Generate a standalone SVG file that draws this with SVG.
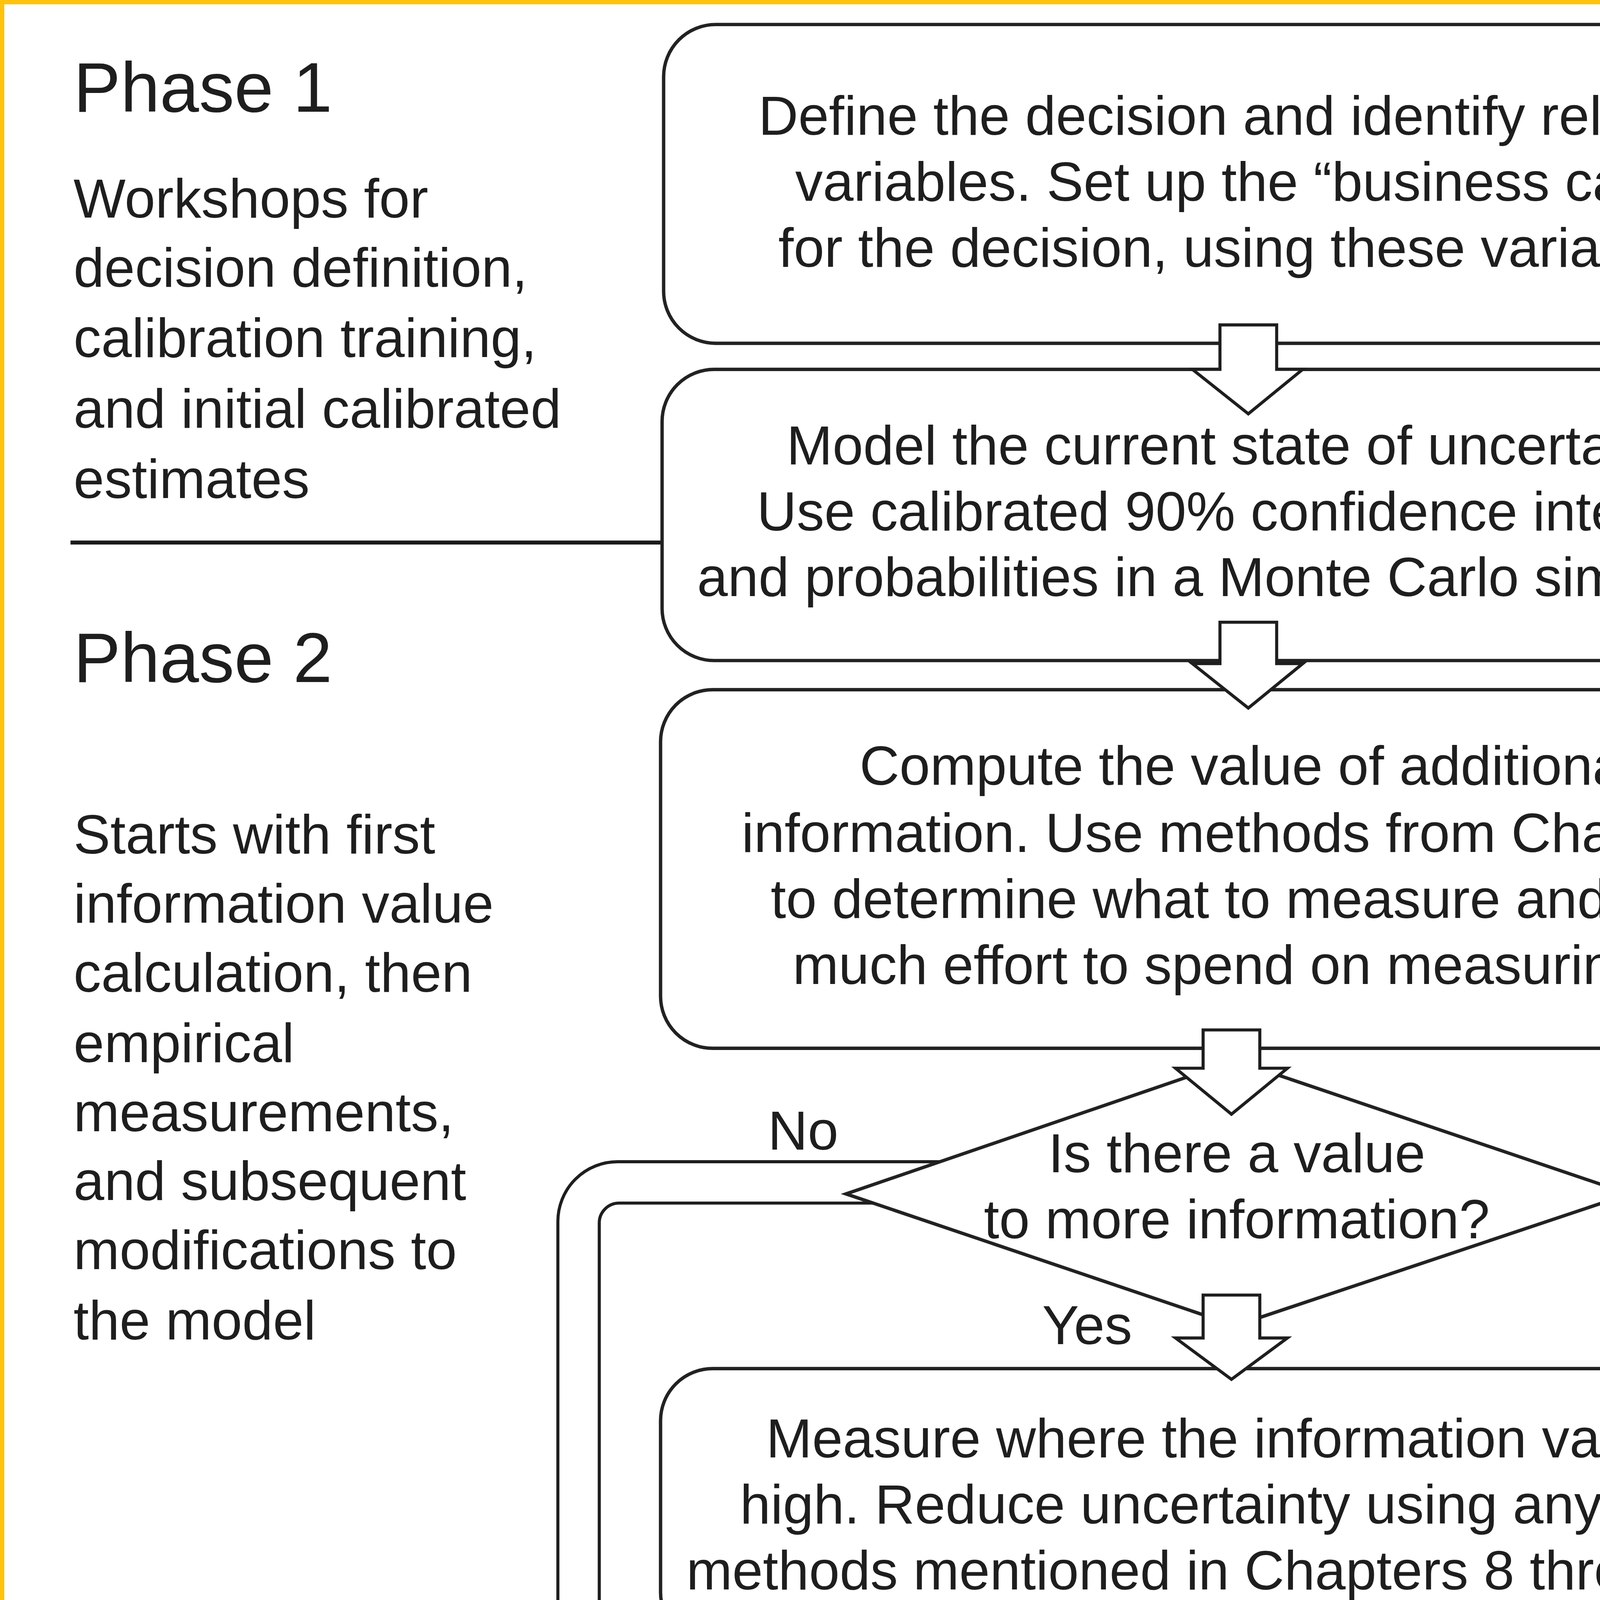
<svg xmlns="http://www.w3.org/2000/svg" width="6152" height="5744" viewBox="0 0 6152 5744">
<style>
.t{font-family:"Liberation Sans",Arial,sans-serif;fill:#1e1e1e;font-size:36px}
.c{text-anchor:middle}
.ph{font-size:46px}
.box{fill:#fff;stroke:#222;stroke-width:2.2}
.blk{fill:#fff;stroke:#1e1e1e;stroke-width:2;stroke-linejoin:miter}
.loop{fill:none;stroke:#1e1e1e;stroke-width:2;stroke-linejoin:miter}
.div{stroke:#1a1a1a;stroke-width:2.6}
.cap{font-family:"Liberation Serif","Times New Roman",serif;font-size:48px;fill:#333}
</style>
<rect x="0" y="0" width="6152" height="5744" fill="#fff"/>
<rect x="5.5" y="5.5" width="6141" height="5733" fill="none" stroke="#FFC20F" stroke-width="11"/>
<g transform="scale(3.9235)">
  <g id="dividers">
    <line class="div" x1="46" y1="354" x2="1498" y2="354"/>
    <line class="div" x1="46" y1="1080" x2="1498" y2="1080"/>
  </g>
  <g id="phase-labels">
    <text class="t ph" x="48" y="73">Phase 1</text>
    <text class="t" x="48"><tspan x="48" y="142">Workshops for</tspan><tspan x="48" y="187">decision definition,</tspan><tspan x="48" y="233">calibration training,</tspan><tspan x="48" y="279">and initial calibrated</tspan><tspan x="48" y="325">estimates</tspan></text>
    <text class="t ph" x="48" y="445">Phase 2</text>
    <text class="t" x="48"><tspan x="48" y="557">Starts with first</tspan><tspan x="48" y="602">information value</tspan><tspan x="48" y="647">calculation, then</tspan><tspan x="48" y="693">empirical</tspan><tspan x="48" y="738">measurements,</tspan><tspan x="48" y="783">and subsequent</tspan><tspan x="48" y="828">modifications to</tspan><tspan x="48" y="874">the model</tspan></text>
    <text class="t ph" x="48" y="1145">Phase 3</text>
    <text class="t" x="48"><tspan x="48" y="1212">Determining optimum</tspan><tspan x="48" y="1258">decisions; findings and</tspan><tspan x="48" y="1305">recommendations</tspan></text>
  </g>
  <g id="node-define">
    <rect class="box" x="433" y="16" width="762" height="208" rx="34"/>
    <text class="t c"><tspan x="814" y="88">Define the decision and identify relevant</tspan><tspan x="814" y="131">variables. Set up the “business case”</tspan><tspan x="814" y="174">for the decision, using these variables.</tspan></text>
  </g>
  <g id="node-model">
    <rect class="box" x="432" y="241" width="765" height="190" rx="34"/>
    <text class="t c"><tspan x="814" y="303">Model the current state of uncertainty.</tspan><tspan x="814" y="346">Use calibrated 90% confidence intervals</tspan><tspan x="814" y="389">and probabilities in a Monte Carlo simulation.</tspan></text>
  </g>
  <g id="node-compute">
    <rect class="box" x="431" y="450" width="767" height="234" rx="34"/>
    <text class="t c"><tspan x="814" y="512">Compute the value of additional</tspan><tspan x="814" y="556">information. Use methods from Chapter 7</tspan><tspan x="814" y="599">to determine what to measure and how</tspan><tspan x="814" y="642">much effort to spend on measuring it.</tspan></text>
  </g>
  <g id="node-decision">
    <polygon class="box" points="552,779 806,692 1063,779 806,865"/>
    <text class="t c"><tspan x="807" y="765">Is there a value</tspan><tspan x="807" y="808">to more information?</tspan></text>
  </g>
  <g id="node-measure">
    <rect class="box" x="431" y="893" width="767" height="180" rx="34"/>
    <text class="t c"><tspan x="814" y="951">Measure where the information value is</tspan><tspan x="814" y="994">high. Reduce uncertainty using any of the</tspan><tspan x="814" y="1037">methods mentioned in Chapters 8 through 13.</tspan></text>
  </g>
  <g id="node-optimize">
    <rect class="box" x="437" y="1093" width="759" height="216" rx="34"/>
    <text class="t c"><tspan x="816" y="1147">Optimize decision. Use the quantified</tspan><tspan x="816" y="1190">risk/return boundary of the decision</tspan><tspan x="816" y="1233">makers (Chapters 6 and 11) to determine</tspan><tspan x="816" y="1277">which decision is preferred.</tspan></text>
  </g>
  <g id="note-return">
    <text class="t"><tspan x="1224" y="1146">(Return to</tspan><tspan x="1224" y="1190">Phase 1 for the</tspan><tspan x="1224" y="1233">follow-on</tspan><tspan x="1224" y="1276">decisions.)</tspan></text>
  </g>
  <g id="connectors">
    <polygon class="blk" points="796,212 833,212 833,241 850,241 814.5,270 778,241 796,241"/>
    <polygon class="blk" points="796,406 833,406 833,433 850,433 814.5,462 778,433 796,433"/>
    <polygon class="blk" points="785,672 822,672 822,697 840,697 803.5,727 767,697 785,697"/>
    <polygon class="blk" points="785,845 822,845 822,873 840,873 803.5,900 767,873 785,873"/>
    <polygon class="blk" points="1197.5,285 1230,251 1230,269 1262,269 1262,305 1230,305 1230,323"/>
    <path class="loop" d="M613,758 H403 A39,39 0 0 0 364,797 V1146 A37,37 0 0 0 401,1183 H415 V1195 L436,1171 L415,1145 V1157 H403 A12,12 0 0 1 391,1145 V798 A13,13 0 0 1 404,785 H570"/>
    <path class="loop" d="M1185,976 H1285.5 V409.5 H1213 V427 L1185,397 L1213,366 V385.5 H1287.5 A22,22 0 0 1 1309.5,407.5 V978 A22,22 0 0 1 1287.5,1000 H1185 Z"/>
    <text class="t" x="501" y="750">No</text>
    <text class="t" x="680" y="877">Yes</text>
  </g>
  <g id="node-calibration">
    <rect class="box" x="1255" y="203" width="242" height="126" rx="24"/>
    <text class="t c"><tspan x="1371" y="256">Calibration</tspan><tspan x="1371" y="302">Training</tspan></text>
  </g>
  <g id="caption">
    <text class="cap" x="45.5" y="1391"><tspan font-weight="bold" fill="#0000EE" text-decoration="underline">Exhibit 14.1</tspan> Summary of the AIE Process: The Universal Measurement</text>
    <text class="cap" x="45.5" y="1446">Approach</text>
  </g>
</g>
</svg>
